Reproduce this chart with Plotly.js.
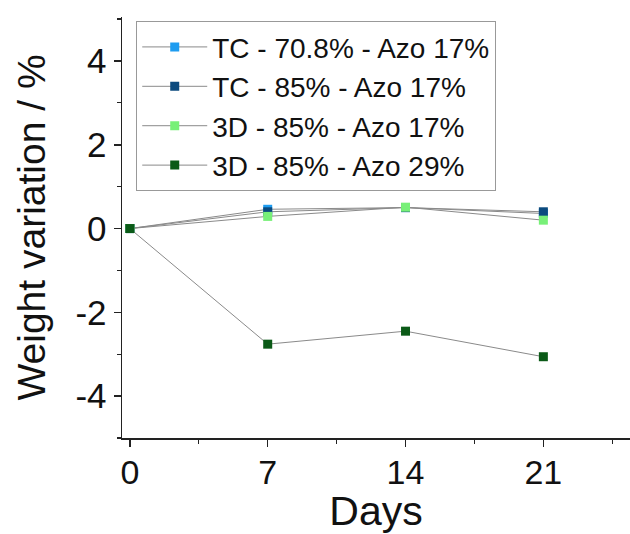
<!DOCTYPE html>
<html><head><meta charset="utf-8">
<script src="https://cdn.plot.ly/plotly-3.0.1.min.js"></script>
<style>html,body{margin:0;padding:0;background:#fff}</style>
</head><body><div id="chart" style="width:630px;height:534px"></div>
<script>
const days = [0, 7, 14, 21];
const seriesNames = ["TC - 70.8% - Azo 17%", "TC - 85% - Azo 17%", "3D - 85% - Azo 17%", "3D - 85% - Azo 29%"];
const tc708 = [0, 0.46, 0.50, 0.36];
const tc85 = [0, 0.40, 0.50, 0.40];
const d3az17 = [0, 0.29, 0.51, 0.20];
const d3az29 = [0, -2.76, -2.45, -3.06];
const colors = ["#1E9CF0", "#0B4A7E", "#78F078", "#0B5A17"];
const allValues = [tc708, tc85, d3az17, d3az29];

const traces = allValues.map((v, i) => ({
  x: days, y: v, name: seriesNames[i], type: "scatter", mode: "lines+markers",
  line: {color: "#8a8a8a", width: 1},
  marker: {symbol: "square", size: 9, color: colors[i], line: {color: colors[i], width: 0}}
}));

const font = "Liberation Sans, Arial, sans-serif";
const layout = {
  width: 630, height: 534,
  margin: {l: 122, r: 0, t: 17, b: 96},
  paper_bgcolor: "#fff", plot_bgcolor: "#fff",
  font: {family: font, color: "#111", size: 26},
  showlegend: true,
  legend: {x: 0.028, y: 0.99, xanchor: "left", yanchor: "top",
    bgcolor: "#fff", bordercolor: "#999", borderwidth: 1,
    font: {family: font, size: 28, color: "#111"}, tracegroupgap: 0, itemwidth: 65},
  xaxis: {
    range: [-0.4, 25.4], tickvals: days, ticktext: days.map(String),
    ticks: "outside", ticklen: 7, tickwidth: 1.5, tickcolor: "#222",
    minor: {tickvals: [3.5, 10.5, 17.5, 24.5], ticks: "outside", ticklen: 4, tickcolor: "#222", tickwidth: 1.2},
    showline: true, linecolor: "#222", linewidth: 1.5, showgrid: false, zeroline: false,
    tickfont: {family: font, size: 34, color: "#111"}, ticklabelstandoff: -3,
    title: {text: "Days", font: {family: font, size: 41, color: "#111"}, standoff: 12}
  },
  yaxis: {
    range: [-5, 5.05], tickvals: [-4, -2, 0, 2, 4], ticktext: ["-4", "-2", "0", "2", "4"],
    ticks: "outside", ticklen: 7, tickwidth: 1.5, tickcolor: "#222",
    minor: {tickvals: [-5, -3, -1, 1, 3, 5], ticks: "outside", ticklen: 4, tickcolor: "#222", tickwidth: 1.2},
    showline: true, linecolor: "#222", linewidth: 1.5, showgrid: false, zeroline: false,
    tickfont: {family: font, size: 35, color: "#111"},
    title: {text: "Weight variation / %", font: {family: font, size: 39, color: "#111"}, standoff: 17}
  }
};
Plotly.newPlot("chart", traces, layout, {displayModeBar: false, staticPlot: true});
</script></body></html>
